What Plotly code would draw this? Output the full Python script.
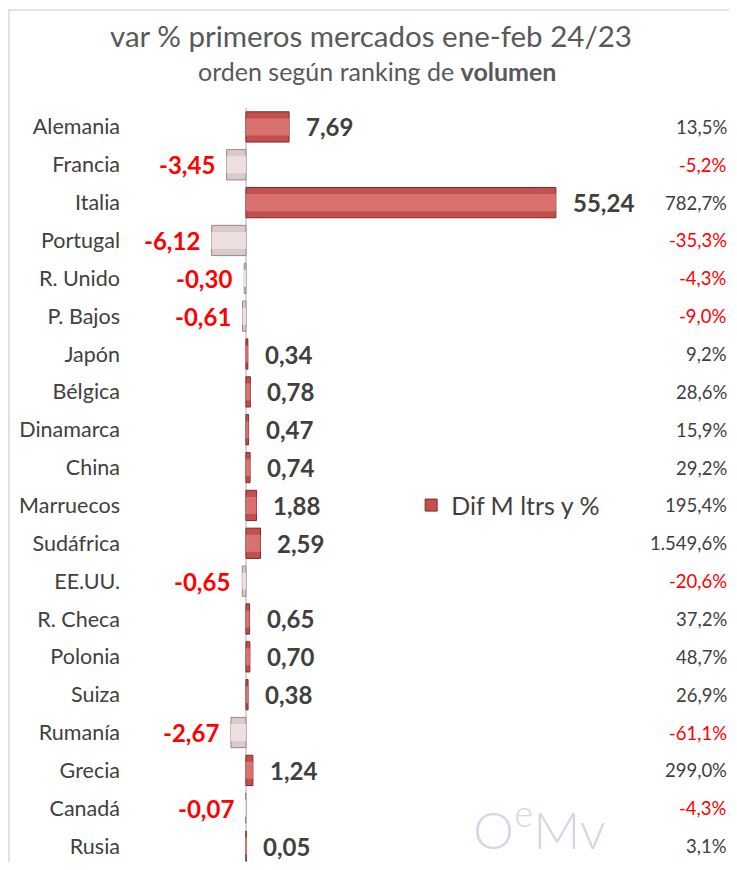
import plotly.graph_objects as go

categories = ["Alemania", "Francia", "Italia", "Portugal", "R. Unido", "P. Bajos", "Japón",
              "Bélgica", "Dinamarca", "China", "Marruecos", "Sudáfrica", "EE.UU.", "R. Checa",
              "Polonia", "Suiza", "Rumanía", "Grecia", "Canadá", "Rusia"]
dif_mltrs = [7.69, -3.45, 55.24, -6.12, -0.30, -0.61, 0.34, 0.78, 0.47, 0.74, 1.88, 2.59,
             -0.65, 0.65, 0.70, 0.38, -2.67, 1.24, -0.07, 0.05]
var_pct = [13.5, -5.2, 782.7, -35.3, -4.3, -9.0, 9.2, 28.6, 15.9, 29.2, 195.4, 1549.6,
           -20.6, 37.2, 48.7, 26.9, -61.1, 299.0, -4.3, 3.1]

def es_num(v, d=2):
    s = f"{abs(v):,.{d}f}".replace(",", "X").replace(".", ",").replace("X", ".")
    return ("-" if v < 0 else "") + s

FONT = "Lato"
DARK = "#404040"
RED = "#ff0000"

pos_fill, pos_line = "#c4504e", "#7e2b2a"
neg_fill, neg_line = "#dcc9c9", "#9b8686"

bar_colors = [pos_fill if v >= 0 else neg_fill for v in dif_mltrs]
line_colors = [pos_line if v >= 0 else neg_line for v in dif_mltrs]
inner_colors = ["#d9716f" if v >= 0 else "#ece0e0" for v in dif_mltrs]

fig = go.Figure()
fig.add_trace(go.Bar(
    y=categories, x=dif_mltrs, orientation="h", name="Dif M ltrs y %",
    marker=dict(color=bar_colors, line=dict(color=line_colors, width=1)),
    width=0.8, showlegend=True, hoverinfo="skip"))
fig.add_trace(go.Bar(
    y=categories, x=dif_mltrs, orientation="h", name="inner",
    marker=dict(color=inner_colors, line=dict(width=0)),
    width=0.45, showlegend=False, hoverinfo="skip"))

annotations = []
for c, v, p in zip(categories, dif_mltrs, var_pct):
    annotations.append(dict(
        x=v, y=c, xref="x", yref="y", text=f"<b>{es_num(v)}</b>", showarrow=False,
        xanchor="left" if v >= 0 else "right", xshift=15 if v >= 0 else -10,
        font=dict(family=FONT, size=24, color=DARK if v >= 0 else RED)))
    annotations.append(dict(
        x=1.0, y=c, xref="paper", yref="y", text=es_num(p, 1) + "%", showarrow=False,
        xanchor="right", font=dict(family=FONT, size=18.5, color=DARK if p >= 0 else RED)))

annotations.append(dict(
    x=0.405, y=1.096, xref="paper", yref="paper", xanchor="center", yanchor="middle",
    text="var % primeros mercados ene-feb 24/23", showarrow=False,
    font=dict(family=FONT, size=29.5, color="#595959")))
annotations.append(dict(
    x=0.415, y=1.049, xref="paper", yref="paper", xanchor="center", yanchor="middle",
    text="orden según ranking de <b>volumen</b>", showarrow=False,
    font=dict(family=FONT, size=25, color="#595959")))
annotations.append(dict(
    x=0.685, y=0.049, xref="paper", yref="paper", xanchor="center", yanchor="middle",
    text="O<sup>e</sup>Mv", showarrow=False,
    font=dict(family=FONT, size=52, color="#d2d8e6", weight=300)))

fig.update_layout(
    width=721, height=854,
    margin=dict(l=119, r=0, t=100, b=0),
    paper_bgcolor="white", plot_bgcolor="white",
    barmode="overlay",
    xaxis=dict(range=[-21.2, 86.1], showgrid=False, showticklabels=False, ticks="",
               zeroline=True, zerolinecolor="#d6d6d6", zerolinewidth=1.5, fixedrange=True),
    yaxis=dict(range=[19.42, -0.5], showgrid=False, ticks="", type="category",
               tickfont=dict(family=FONT, size=21.5, color=DARK), ticklabelstandoff=6),
    legend=dict(x=0.472, y=0.473, xanchor="left", yanchor="middle",
                font=dict(family=FONT, size=25, color=DARK), bgcolor="rgba(0,0,0,0)",
                itemwidth=30),
    annotations=annotations,
    shapes=[dict(type="rect", xref="paper", yref="paper",
                 x0=-0.196, x1=1.05, y0=-0.05, y1=1.13,
                 line=dict(color="#d9d9d9", width=1.5), fillcolor="rgba(0,0,0,0)", layer="below")],
)

fig.write_html("out.html")
